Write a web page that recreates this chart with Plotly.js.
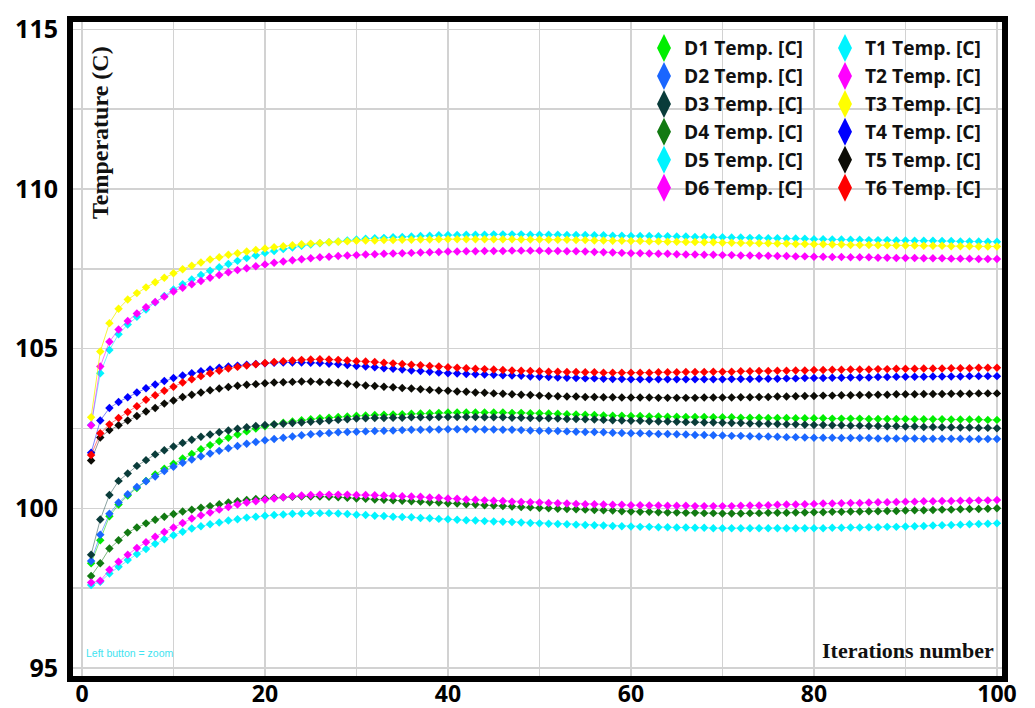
<!DOCTYPE html>
<html>
<head>
<meta charset="utf-8">
<script src="https://cdn.plot.ly/plotly-3.0.1.min.js"></script>
<style>html,body{margin:0;padding:0;background:#fff;}#chart{width:1035px;height:708px;}</style>
</head>
<body>
<div id="chart"></div>
<script>
// ---------- data ----------
const seriesNames = ["D1 Temp. [C]","D2 Temp. [C]","D3 Temp. [C]","D4 Temp. [C]","D5 Temp. [C]","D6 Temp. [C]",
                     "T1 Temp. [C]","T2 Temp. [C]","T3 Temp. [C]","T4 Temp. [C]","T5 Temp. [C]","T6 Temp. [C]"];
const iterations = Array.from({length: 100}, (_, i) => i + 1);

const D1 = [98.28,99.00,99.75,100.12,100.40,100.64,100.86,101.06,101.24,101.40,
101.56,101.70,101.85,101.98,102.10,102.21,102.31,102.41,102.50,102.57,
102.63,102.68,102.72,102.76,102.79,102.82,102.84,102.86,102.88,102.90,
102.91,102.92,102.93,102.94,102.95,102.96,102.97,102.98,102.99,103.00,
103.00,103.00,103.00,103.00,103.00,103.00,102.99,102.99,102.98,102.98,
102.97,102.96,102.95,102.94,102.93,102.92,102.91,102.90,102.90,102.89,
102.89,102.88,102.88,102.87,102.87,102.86,102.86,102.86,102.85,102.85,
102.85,102.84,102.84,102.84,102.83,102.83,102.83,102.82,102.82,102.82,
102.82,102.81,102.81,102.81,102.81,102.80,102.80,102.80,102.80,102.80,
102.79,102.79,102.79,102.79,102.78,102.78,102.78,102.78,102.77,102.77];
const D2 = [98.35,99.17,99.83,100.18,100.44,100.67,100.85,101.00,101.17,101.30,
101.43,101.53,101.63,101.72,101.80,101.88,101.95,102.02,102.08,102.13,
102.17,102.21,102.25,102.29,102.32,102.34,102.36,102.38,102.39,102.40,
102.41,102.42,102.43,102.44,102.45,102.46,102.46,102.47,102.47,102.48,
102.48,102.48,102.48,102.47,102.47,102.46,102.46,102.45,102.44,102.43,
102.43,102.42,102.41,102.40,102.39,102.39,102.38,102.37,102.36,102.35,
102.35,102.34,102.33,102.33,102.32,102.31,102.30,102.30,102.29,102.28,
102.27,102.27,102.26,102.25,102.25,102.24,102.23,102.23,102.22,102.21,
102.21,102.21,102.20,102.20,102.20,102.20,102.19,102.19,102.19,102.19,
102.19,102.18,102.18,102.18,102.18,102.18,102.17,102.17,102.17,102.17];
const D3 = [98.55,99.65,100.42,100.86,101.09,101.33,101.51,101.69,101.82,101.94,
102.05,102.15,102.24,102.31,102.38,102.44,102.49,102.54,102.58,102.61,
102.63,102.65,102.67,102.69,102.71,102.73,102.75,102.77,102.79,102.81,
102.82,102.83,102.83,102.84,102.84,102.85,102.85,102.85,102.86,102.86,
102.86,102.86,102.86,102.85,102.85,102.85,102.84,102.84,102.83,102.82,
102.82,102.81,102.80,102.80,102.79,102.78,102.77,102.76,102.75,102.74,
102.74,102.73,102.72,102.72,102.71,102.70,102.70,102.69,102.69,102.68,
102.67,102.67,102.66,102.65,102.65,102.64,102.63,102.63,102.62,102.61,
102.61,102.60,102.60,102.59,102.59,102.58,102.58,102.57,102.57,102.56,
102.56,102.55,102.55,102.54,102.54,102.53,102.53,102.52,102.52,102.51];
const D4 = [97.88,98.28,98.74,99.00,99.24,99.40,99.53,99.64,99.74,99.82,
99.90,99.96,100.02,100.07,100.13,100.18,100.22,100.26,100.29,100.31,
100.33,100.35,100.36,100.37,100.37,100.37,100.36,100.35,100.33,100.31,
100.30,100.28,100.27,100.25,100.24,100.22,100.21,100.19,100.18,100.16,
100.15,100.13,100.12,100.10,100.09,100.07,100.06,100.04,100.03,100.01,
100.00,99.99,99.98,99.97,99.96,99.95,99.94,99.93,99.91,99.90,
99.89,99.89,99.88,99.87,99.87,99.86,99.86,99.85,99.85,99.84,
99.84,99.84,99.85,99.85,99.86,99.86,99.86,99.87,99.87,99.88,
99.88,99.89,99.89,99.90,99.90,99.91,99.91,99.92,99.92,99.93,
99.94,99.94,99.95,99.96,99.96,99.97,99.98,99.98,99.99,100.00];
const D5 = [97.60,97.70,97.96,98.17,98.38,98.57,98.73,98.89,99.03,99.16,
99.27,99.37,99.44,99.50,99.56,99.62,99.66,99.71,99.74,99.77,
99.79,99.81,99.83,99.84,99.85,99.85,99.85,99.84,99.82,99.80,
99.79,99.77,99.76,99.74,99.73,99.72,99.70,99.69,99.67,99.66,
99.64,99.63,99.62,99.60,99.59,99.58,99.57,99.56,99.54,99.53,
99.52,99.51,99.50,99.49,99.48,99.47,99.46,99.45,99.44,99.43,
99.42,99.42,99.41,99.41,99.40,99.40,99.39,99.39,99.38,99.38,
99.38,99.38,99.38,99.38,99.38,99.38,99.38,99.38,99.38,99.38,
99.38,99.39,99.39,99.40,99.40,99.41,99.41,99.42,99.42,99.43,
99.44,99.45,99.46,99.47,99.48,99.49,99.50,99.51,99.52,99.53];
const D6 = [97.68,97.73,98.08,98.33,98.55,98.76,98.94,99.11,99.26,99.40,
99.54,99.68,99.78,99.87,99.96,100.04,100.12,100.18,100.22,100.27,
100.31,100.35,100.38,100.40,100.42,100.43,100.43,100.43,100.43,100.42,
100.42,100.41,100.40,100.39,100.38,100.37,100.36,100.34,100.33,100.31,
100.30,100.28,100.27,100.25,100.24,100.23,100.21,100.20,100.19,100.18,
100.17,100.16,100.15,100.14,100.13,100.13,100.12,100.11,100.11,100.10,
100.10,100.09,100.09,100.08,100.08,100.08,100.07,100.07,100.07,100.07,
100.07,100.08,100.09,100.09,100.10,100.11,100.12,100.12,100.13,100.14,
100.15,100.15,100.16,100.17,100.17,100.18,100.19,100.19,100.20,100.21,
100.21,100.22,100.22,100.23,100.23,100.24,100.24,100.25,100.25,100.26];
const T1 = [102.61,104.23,104.96,105.45,105.76,106.00,106.23,106.45,106.65,106.85,
107.02,107.17,107.31,107.44,107.55,107.65,107.75,107.84,107.92,108.00,
108.06,108.12,108.17,108.22,108.26,108.30,108.33,108.36,108.39,108.42,
108.44,108.46,108.47,108.49,108.50,108.51,108.53,108.54,108.55,108.56,
108.56,108.57,108.57,108.57,108.58,108.58,108.58,108.58,108.57,108.57,
108.57,108.57,108.56,108.56,108.56,108.55,108.55,108.54,108.54,108.53,
108.53,108.53,108.52,108.52,108.51,108.51,108.50,108.50,108.49,108.49,
108.48,108.48,108.47,108.47,108.46,108.46,108.45,108.45,108.44,108.43,
108.43,108.42,108.42,108.41,108.41,108.40,108.40,108.40,108.39,108.39,
108.38,108.38,108.38,108.37,108.37,108.36,108.36,108.36,108.35,108.35];
const T2 = [102.60,104.44,105.22,105.60,105.87,106.10,106.30,106.46,106.63,106.79,
106.91,107.02,107.12,107.22,107.31,107.39,107.46,107.52,107.58,107.64,
107.69,107.73,107.77,107.80,107.83,107.86,107.88,107.90,107.92,107.93,
107.95,107.96,107.97,107.98,107.99,108.00,108.01,108.02,108.03,108.04,
108.04,108.05,108.05,108.06,108.06,108.06,108.07,108.07,108.07,108.07,
108.06,108.06,108.05,108.05,108.04,108.03,108.02,108.01,108.00,107.99,
107.99,107.98,107.97,107.97,107.96,107.95,107.95,107.94,107.94,107.93,
107.93,107.92,107.92,107.91,107.91,107.90,107.90,107.89,107.89,107.88,
107.88,107.87,107.87,107.86,107.86,107.86,107.85,107.85,107.84,107.84,
107.84,107.83,107.83,107.83,107.82,107.82,107.82,107.81,107.81,107.81];
const T3 = [102.85,104.91,105.80,106.25,106.54,106.74,106.92,107.08,107.22,107.36,
107.49,107.60,107.70,107.79,107.86,107.94,107.99,108.04,108.09,108.14,
108.18,108.21,108.24,108.27,108.29,108.31,108.33,108.35,108.36,108.38,
108.39,108.39,108.40,108.40,108.41,108.41,108.42,108.42,108.43,108.43,
108.43,108.43,108.43,108.43,108.43,108.43,108.43,108.42,108.42,108.42,
108.41,108.41,108.41,108.40,108.40,108.39,108.39,108.38,108.38,108.37,
108.37,108.36,108.36,108.35,108.35,108.34,108.34,108.33,108.33,108.32,
108.32,108.31,108.31,108.30,108.30,108.29,108.29,108.28,108.28,108.27,
108.27,108.26,108.26,108.25,108.25,108.25,108.24,108.24,108.23,108.23,
108.23,108.22,108.22,108.22,108.21,108.21,108.21,108.20,108.20,108.20];
const T4 = [101.74,102.75,103.14,103.33,103.48,103.63,103.76,103.88,103.99,104.08,
104.16,104.23,104.29,104.35,104.40,104.44,104.47,104.50,104.52,104.54,
104.56,104.57,104.57,104.57,104.56,104.55,104.53,104.51,104.49,104.46,
104.44,104.42,104.39,104.37,104.35,104.32,104.30,104.28,104.25,104.23,
104.22,104.21,104.20,104.19,104.18,104.17,104.16,104.15,104.13,104.12,
104.11,104.10,104.09,104.08,104.07,104.07,104.06,104.05,104.05,104.04,
104.04,104.04,104.04,104.04,104.04,104.04,104.04,104.04,104.04,104.04,
104.05,104.05,104.05,104.06,104.06,104.06,104.07,104.07,104.08,104.08,
104.08,104.09,104.09,104.10,104.10,104.10,104.11,104.11,104.12,104.12,
104.12,104.12,104.13,104.13,104.13,104.13,104.14,104.14,104.14,104.14];
const T5 = [101.50,102.22,102.45,102.60,102.75,102.89,103.03,103.14,103.28,103.38,
103.49,103.56,103.63,103.70,103.75,103.80,103.84,103.87,103.89,103.92,
103.94,103.95,103.96,103.97,103.97,103.96,103.95,103.93,103.90,103.87,
103.85,103.83,103.81,103.79,103.77,103.75,103.73,103.71,103.69,103.68,
103.66,103.65,103.63,103.62,103.60,103.59,103.57,103.56,103.55,103.53,
103.52,103.51,103.50,103.50,103.49,103.49,103.48,103.48,103.47,103.47,
103.47,103.47,103.46,103.46,103.46,103.46,103.46,103.47,103.47,103.47,
103.47,103.48,103.48,103.49,103.49,103.50,103.50,103.51,103.52,103.52,
103.53,103.53,103.54,103.54,103.55,103.55,103.56,103.56,103.57,103.57,
103.57,103.58,103.58,103.58,103.59,103.59,103.59,103.60,103.60,103.60];
const T6 = [101.67,102.35,102.63,102.83,103.02,103.20,103.40,103.54,103.68,103.81,
103.94,104.04,104.14,104.23,104.31,104.38,104.43,104.47,104.51,104.55,
104.58,104.61,104.63,104.65,104.66,104.67,104.66,104.65,104.63,104.61,
104.60,104.58,104.56,104.54,104.52,104.50,104.48,104.46,104.44,104.42,
104.40,104.39,104.37,104.36,104.35,104.33,104.32,104.31,104.30,104.29,
104.28,104.28,104.27,104.27,104.26,104.26,104.25,104.25,104.25,104.25,
104.25,104.25,104.26,104.26,104.26,104.27,104.27,104.27,104.28,104.28,
104.28,104.29,104.29,104.30,104.30,104.31,104.31,104.32,104.32,104.33,
104.33,104.34,104.34,104.35,104.35,104.35,104.36,104.36,104.37,104.37,
104.37,104.38,104.38,104.38,104.39,104.39,104.39,104.40,104.40,104.40];

const xTickVals = [0,10,20,30,40,50,60,70,80,90,100];
const xTickText = ["0","","20","","40","","60","","80","","100"];
const yTickVals = [95,97.5,100,102.5,105,107.5,110,112.5,115];
const yTickText = ["95","","100","","105","","110","","115"];

// ---------- styling ----------
const seriesValues = [D1,D2,D3,D4,D5,D6,T1,T2,T3,T4,T5,T6];
const markerColors = ["#00ee00","#1a66ff","#0a3c3a","#127a12","#00f4ff","#ff00ff",
                      "#00f4ff","#ff00ff","#ffff00","#0000ff","#0c0c06","#ff0000"];
const lineColors = ["rgba(0,220,0,0.55)","rgba(26,102,255,0.55)","rgba(60,100,100,0.6)","rgba(18,122,18,0.55)","rgba(0,230,255,0.55)","rgba(255,0,255,0.55)",
                    "rgba(0,230,255,0.55)","rgba(255,0,255,0.55)","rgba(240,240,0,0.75)","rgba(0,0,255,0.5)","rgba(40,40,40,0.5)","rgba(255,0,0,0.5)"];

const traces = [];
seriesValues.forEach((vals, i) => {
  traces.push({
    type: "scatter", mode: "lines+markers", x: iterations, y: vals,
    name: seriesNames[i], showlegend: false, hoverinfo: "x+y+name",
    line: {color: lineColors[i], width: 1},
    marker: {symbol: "diamond", size: 6.5, color: markerColors[i]}
  });
});
// legend entries (markers only, like the reference legend)
seriesValues.forEach((vals, i) => {
  traces.push({
    type: "scatter", mode: "markers", x: [null], y: [null],
    name: seriesNames[i], showlegend: true,
    legend: i < 6 ? "legend" : "legend2",
    marker: {symbol: "diamond-tall", size: 16, color: markerColors[i],
             line: {color: markerColors[i], width: 2.5}}
  });
});

const L = 73, R = 33, T = 22, B = 32, W = 1035, H = 708;
const pw = W - L - R, ph = H - T - B;
const px = v => (v - L) / pw;
const py = v => (H - B - v) / ph;

const legendFont = {family: "Open Sans", size: 19.2, weight: 700, color: "#111"};

const layout = {
  width: W, height: H,
  margin: {l: L, r: R, t: T, b: B, pad: 0},
  paper_bgcolor: "#ffffff", plot_bgcolor: "#ffffff",
  showlegend: true,
  xaxis: {
    range: [-0.98, 100.55], tickvals: xTickVals, ticktext: xTickText,
    showgrid: true, gridcolor: "#d2d2d2", gridwidth: 1.5, zeroline: false,
    showline: true, linecolor: "#000", linewidth: 6, mirror: true,
    ticks: "", ticklabelstandoff: -8,
    tickfont: {family: "Open Sans", size: 23, weight: 700, color: "#000"}
  },
  yaxis: {
    range: [94.75, 115.23], tickvals: yTickVals, ticktext: yTickText,
    showgrid: true, gridcolor: "#d2d2d2", gridwidth: 1.5, zeroline: false,
    showline: true, linecolor: "#000", linewidth: 6, mirror: true,
    ticks: "", ticklabelstandoff: 4,
    tickfont: {family: "Open Sans", size: 25, weight: 700, color: "#000"}
  },
  legend: {x: px(644), y: py(29), xanchor: "left", yanchor: "top", bgcolor: "rgba(0,0,0,0)",
           borderwidth: 0, font: legendFont, itemsizing: "trace", tracegroupgap: 0},
  legend2: {x: px(825), y: py(29), xanchor: "left", yanchor: "top", bgcolor: "rgba(0,0,0,0)",
            borderwidth: 0, font: legendFont, itemsizing: "trace", tracegroupgap: 0},
  shapes: [{type: "rect", xref: "paper", yref: "paper", layer: "between",
            x0: px(640), x1: px(999), y0: py(204), y1: py(23),
            fillcolor: "#ffffff", line: {width: 0}}],
  annotations: [
    {text: "Temperature (C)", xref: "paper", yref: "paper", x: px(100), y: py(133),
     xanchor: "center", yanchor: "middle", textangle: -90, showarrow: false,
     font: {family: "Liberation Serif", size: 24, weight: 700, color: "#111"}},
    {text: "Iterations number", xref: "paper", yref: "paper", x: px(908), y: py(650),
     xanchor: "center", yanchor: "middle", showarrow: false,
     font: {family: "Liberation Serif", size: 22, weight: 700, color: "#111"}},
    {text: "Left button = zoom", xref: "paper", yref: "paper", x: px(130), y: py(653),
     xanchor: "center", yanchor: "middle", showarrow: false,
     font: {family: "Liberation Sans", size: 10.5, color: "#3fe3f0"}}
  ]
};

Plotly.newPlot("chart", traces, layout, {displayModeBar: false, staticPlot: true});
</script>
</body>
</html>
